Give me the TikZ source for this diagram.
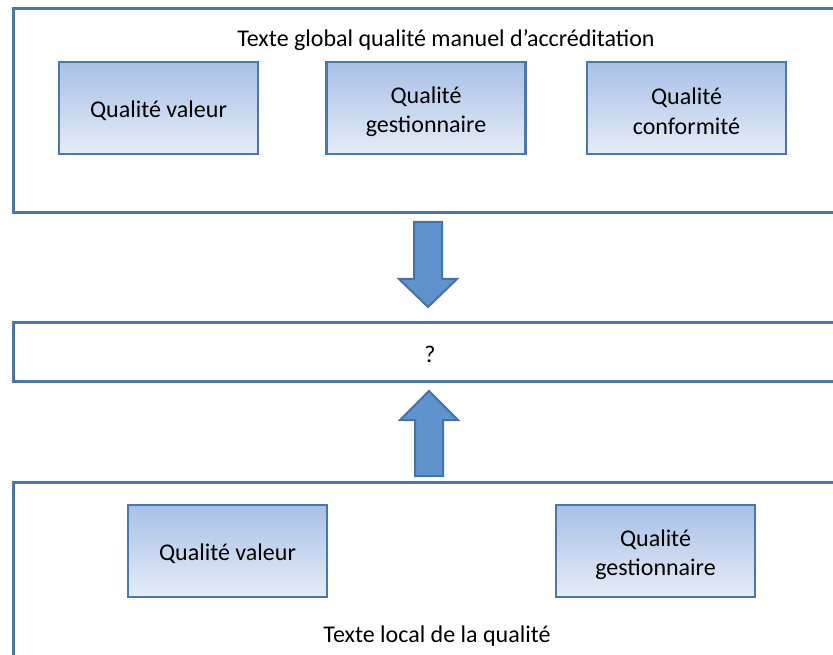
\documentclass[tikz,border=0pt]{standalone}
\usepackage{fontspec}
\setmainfont{Carlito}
\definecolor{frameblue}{HTML}{4A76A8}
\definecolor{boxtop}{HTML}{A8C0E6}
\definecolor{boxbot}{HTML}{E6ECF7}
\definecolor{boxline}{HTML}{4A78AE}
\definecolor{arrowfill}{HTML}{6093CB}
\definecolor{arrowline}{HTML}{4672A6}
\begin{document}
\begin{tikzpicture}[x=1pt,y=-1pt,
  every node/.style={font=\fontsize{24}{29.5}\selectfont, align=center, inner sep=0pt},
  framebox/.style={draw=frameblue, line width=3pt, fill=white, rectangle},
  qbox/.style={draw=boxline, line width=2.6pt, rectangle, top color=boxtop, bottom color=boxbot,
    minimum width=199pt, minimum height=92pt},
  qtext/.style={},
  blockarrow/.style={draw=arrowline, line width=2pt, fill=arrowfill, line join=miter}]
\clip (0,0) rectangle (833,655);
\fill[white] (0,0) rectangle (833,655);

% top frame: global text
\node[framebox, minimum width=840pt, minimum height=204pt] (global) at (433,111) {};
\node (globaltxt) at (446,40) {Texte global qualité manuel d’accréditation};
\node[qbox] (gval) at (158.5,108) {};
\node[qbox] (ggest) at (426,108) {};
\node[qbox] (gconf) at (686.5,108) {};
\node[qtext] (gvaltxt) at ([yshift=-3pt]gval.center) {Qualité valeur};
\node[qtext] (ggesttxt) at ([yshift=-3.5pt]ggest.center) {Qualité\\gestionnaire};
\node[qtext] (gconftxt) at ([yshift=-3.5pt]gconf.center) {Qualité\\conformité};

% middle frame
\node[framebox, minimum width=840pt, minimum height=59pt] (mid) at (433,351.5) {};
\node (q) at (430,354) {?};

% bottom frame: local text
\node[framebox, minimum width=840pt, minimum height=190pt] (local) at (433,577) {};
\node[qbox] (lval) at (227.5,551) {};
\node[qbox] (lgest) at (655.5,551) {};
\node[qtext] (lvaltxt) at ([yshift=-3pt]lval.center) {Qualité valeur};
\node[qtext] (lgesttxt) at ([yshift=-3.5pt]lgest.center) {Qualité\\gestionnaire};
\node (localtxt) at (437,636) {Texte local de la qualité};

% block arrows
\draw[blockarrow] (414,222) -- (442,222) -- (442,279) -- (457,279) -- (428,307)
  -- (399,279) -- (414,279) -- cycle;
\draw[blockarrow] (415,476) -- (443,476) -- (443,420) -- (458,420) -- (429,391)
  -- (400,420) -- (415,420) -- cycle;
\end{tikzpicture}
\end{document}
